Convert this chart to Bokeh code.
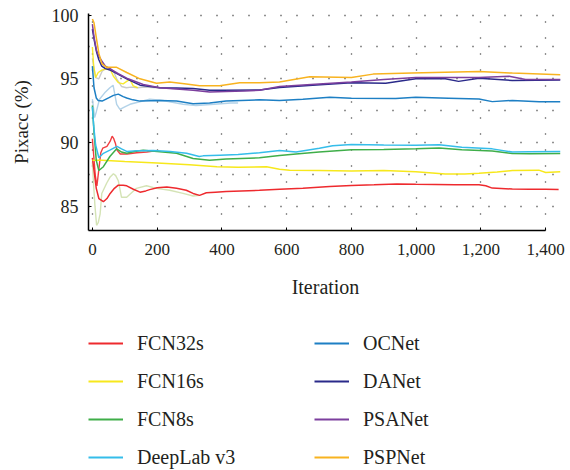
from bokeh.plotting import figure
from bokeh.layouts import column
from bokeh.models import (Legend, LegendItem, Range1d, FixedTicker,
                          NumeralTickFormatter)
from bokeh.embed import file_html
from bokeh.resources import INLINE

# ---------------- data ----------------
labels = ["FCN32s", "FCN16s", "FCN8s", "DeepLab v3", "OCNet", "DANet", "PSANet", "PSPNet"]
colors = ["#ee2a2e", "#f7e81c", "#3fae49", "#35bdea", "#1d7fc4", "#2a2a8a", "#7c3f9e", "#f8b320"]

fcn32_x = [0, 5, 12, 20, 34, 45, 55, 68, 80, 95, 106, 125, 147, 165, 177, 200, 230, 260, 290, 311, 331, 352, 380, 413, 460, 516, 578, 650, 733, 800, 870, 940, 999, 1060, 1120, 1194, 1215, 1235, 1297, 1350, 1400, 1440]
fcn32_y = [88.8, 87.8, 86.4, 85.6, 85.35, 85.6, 86.0, 86.4, 86.65, 86.65, 86.6, 86.35, 86.1, 86.2, 86.3, 86.45, 86.5, 86.4, 86.25, 86.0, 85.85, 86.05, 86.1, 86.15, 86.2, 86.25, 86.33, 86.4, 86.55, 86.63, 86.68, 86.75, 86.72, 86.7, 86.68, 86.68, 86.6, 86.42, 86.35, 86.33, 86.32, 86.3]

fcn16_x = [0, 30, 100, 200, 300, 385, 450, 538, 578, 609, 700, 800, 900, 999, 1050, 1090, 1150, 1194, 1250, 1297, 1379, 1400, 1445]
fcn16_y = [88.6, 88.6, 88.5, 88.4, 88.25, 88.1, 88.05, 88.1, 87.9, 87.83, 87.8, 87.76, 87.8, 87.7, 87.6, 87.52, 87.52, 87.58, 87.68, 87.8, 87.83, 87.65, 87.7]

fcn8_x = [0, 5, 12, 20, 34, 54, 75, 90, 106, 130, 157, 200, 260, 311, 362, 413, 516, 578, 629, 700, 800, 900, 999, 1071, 1141, 1235, 1297, 1350, 1445]
fcn8_y = [92.9, 90.8, 88.6, 87.8, 88.1, 88.9, 89.5, 89.25, 89.15, 89.3, 89.4, 89.3, 89.15, 88.75, 88.6, 88.7, 88.8, 88.97, 89.1, 89.25, 89.44, 89.45, 89.5, 89.56, 89.44, 89.34, 89.13, 89.12, 89.13]

deeplab_x = [0, 4, 10, 20, 34, 54, 76, 90, 106, 137, 188, 240, 291, 330, 342, 394, 450, 516, 578, 629, 701, 742, 800, 900, 999, 1071, 1141, 1235, 1297, 1350, 1445]
deeplab_y = [92.8, 91.3, 89.8, 88.8, 89.15, 89.4, 89.7, 89.5, 89.3, 89.35, 89.37, 89.3, 89.15, 88.9, 88.95, 89.0, 89.05, 89.2, 89.37, 89.25, 89.55, 89.75, 89.85, 89.8, 89.78, 89.83, 89.62, 89.5, 89.25, 89.28, 89.3]

ocnet_x = [0, 5, 12, 18, 30, 50, 65, 80, 95, 106, 125, 147, 180, 208, 260, 311, 362, 413, 516, 578, 650, 733, 800, 937, 999, 1100, 1194, 1235, 1297, 1380, 1445]
ocnet_y = [96.0, 94.3, 93.5, 93.3, 93.25, 93.5, 93.7, 93.8, 93.6, 93.5, 93.35, 93.25, 93.28, 93.3, 93.25, 93.05, 93.1, 93.25, 93.35, 93.3, 93.4, 93.55, 93.48, 93.45, 93.55, 93.48, 93.42, 93.21, 93.3, 93.2, 93.2]

danet_x = [0, 6, 13, 20, 29, 40, 54, 80, 106, 147, 208, 260, 311, 362, 413, 516, 578, 680, 800, 906, 999, 1090, 1131, 1194, 1297, 1445]
danet_y = [98.9, 98.0, 97.1, 96.5, 96.0, 95.8, 95.7, 95.35, 95.0, 94.5, 94.3, 94.28, 94.25, 94.1, 94.1, 94.12, 94.32, 94.5, 94.7, 94.65, 95.0, 95.0, 94.8, 95.05, 94.87, 94.9]

psanet_x = [0, 5, 13, 20, 29, 40, 54, 80, 106, 157, 208, 260, 311, 362, 413, 470, 516, 578, 700, 800, 900, 999, 1100, 1194, 1287, 1338, 1445]
psanet_y = [99.3, 98.3, 97.2, 96.8, 96.4, 96.0, 95.8, 95.4, 95.05, 94.55, 94.3, 94.2, 94.1, 93.96, 94.0, 94.05, 94.1, 94.4, 94.6, 94.76, 94.95, 95.1, 95.1, 95.1, 95.2, 94.95, 94.95]

pspnet_x = [0, 5, 13, 20, 29, 44, 75, 106, 147, 198, 239, 290, 331, 393, 455, 516, 578, 671, 800, 867, 987, 1090, 1194, 1297, 1445]
pspnet_y = [99.7, 99.4, 98.1, 97.0, 96.2, 95.9, 95.9, 95.5, 95.0, 94.65, 94.75, 94.6, 94.45, 94.45, 94.7, 94.7, 94.76, 95.16, 95.1, 95.37, 95.45, 95.52, 95.57, 95.45, 95.33]

# faint early-iteration traces
ghost_red_x = [0, 4, 9, 14, 20, 26, 32, 45, 55, 61, 66, 71, 76, 86, 107, 137, 168, 194]
ghost_red_y = [90.3, 89.0, 87.4, 86.6, 87.9, 89.2, 89.55, 89.7, 90.1, 90.5, 90.3, 89.95, 89.4, 89.1, 89.1, 89.2, 89.25, 89.35]
ghost_yellow_x = [0, 4, 10, 18, 30, 54, 65, 80, 95, 106, 116, 126, 140]
ghost_yellow_y = [97.5, 96.0, 95.1, 95.5, 95.7, 95.8, 95.2, 94.7, 94.6, 94.8, 94.95, 94.45, 94.3]
ghost_gray_x = [0, 5, 10, 20, 30, 40, 55, 65, 75, 90, 105, 120, 140, 160, 200, 240, 271]
ghost_gray_y = [96.6, 95.8, 95.1, 95.0, 95.6, 95.8, 95.8, 95.6, 95.0, 94.4, 94.3, 94.35, 94.3, 94.35, 94.3, 94.25, 94.2]
ghost_blue_x = [0, 4, 7, 12, 22, 38, 54, 64, 75, 85, 100, 116, 146, 177, 218, 280, 320, 376, 427, 450]
ghost_blue_y = [93.4, 92.6, 91.95, 92.4, 93.4, 93.9, 94.3, 94.5, 93.0, 92.6, 92.8, 93.0, 93.2, 93.4, 93.3, 93.0, 92.9, 93.0, 93.1, 93.1]
ghost_green_x = [0, 3, 8, 13, 18, 24, 29, 44, 55, 65, 72, 80, 90, 106, 136, 167, 198, 239, 280, 311, 331]
ghost_green_y = [88.5, 87.0, 85.0, 83.5, 83.7, 84.4, 86.0, 86.8, 87.3, 87.55, 87.4, 87.0, 85.7, 85.7, 86.4, 86.6, 86.4, 86.25, 86.0, 85.8, 85.85]

x_ticks = [0, 200, 400, 600, 800, 1000, 1200, 1400]
y_ticks = [85, 90, 95, 100]
y_grid = [85, 87.5, 90, 92.5, 95, 97.5, 100]

series_x = [fcn32_x, fcn16_x, fcn8_x, deeplab_x, ocnet_x, danet_x, psanet_x, pspnet_x]
series_y = [fcn32_y, fcn16_y, fcn8_y, deeplab_y, ocnet_y, danet_y, psanet_y, pspnet_y]
ghosts = [
    (ghost_green_x, ghost_green_y, "#cfe0ad"),
    (ghost_gray_x, ghost_gray_y, "#c4c4c4"),
    (ghost_blue_x, ghost_blue_y, "#aacde6"),
    (ghost_yellow_x, ghost_yellow_y, "#f7e81c"),
    (ghost_red_x, ghost_red_y, "#ee2a2e"),
]

FONT = "Liberation Serif"
TEXT = "#231f20"

p = figure(width=570, height=304, output_backend="svg", toolbar_location=None,
           x_range=Range1d(-12, 1452), y_range=Range1d(83.09, 100.13),
           min_border_left=88, min_border_right=8, min_border_top=13,
           min_border_bottom=74)
p.outline_line_color = None

for gx, gy, gc in ghosts:
    p.line(gx, gy, line_color=gc, line_width=1.4, line_alpha=0.9)

for sx, sy, c in zip(series_x, series_y, colors):
    p.line(sx, sy, line_color=c, line_width=1.5)

# axes
xax = p.xaxis[0]
yax = p.yaxis[0]
xax.ticker = FixedTicker(ticks=x_ticks)
xax.formatter = NumeralTickFormatter(format="0,0")
xax.bounds = (-12, 1400)
yax.ticker = FixedTicker(ticks=y_ticks)
for ax in (xax, yax):
    ax.axis_line_color = "black"
    ax.axis_line_width = 1.5
    ax.major_tick_out = 0
    ax.major_tick_in = 3
    ax.major_tick_line_color = "black"
    ax.minor_tick_line_color = None
    ax.major_label_text_font = FONT
    ax.major_label_text_color = TEXT
    ax.axis_label_text_font = FONT
    ax.axis_label_text_font_style = "normal"
    ax.axis_label_text_color = TEXT

xax.major_label_text_font_size = "17px"
xax.major_label_standoff = 13
xax.axis_label = "Iteration"
xax.axis_label_text_font_size = "20px"
xax.axis_label_standoff = 18

yax.major_label_text_font_size = "18px"
yax.major_label_standoff = 10
yax.axis_label = "Pixacc (%)"
yax.axis_label_text_font_size = "19px"
yax.axis_label_standoff = 17

# dotted grid
p.xgrid.ticker = FixedTicker(ticks=x_ticks)
p.ygrid.ticker = FixedTicker(ticks=y_grid)
for g in (p.xgrid, p.ygrid):
    g.grid_line_color = "#222222"
    g.grid_line_width = 1.3
    g.grid_line_dash = "1 15"

# ---------------- legend panel ----------------
nan = float("nan")
lg = figure(width=570, height=166, output_backend="svg", toolbar_location=None,
            x_range=Range1d(0, 1), y_range=Range1d(0, 1),
            x_axis_location=None, y_axis_location=None,
            min_border_left=0, min_border_right=0, min_border_top=0,
            min_border_bottom=0)
lg.outline_line_color = None
lg.grid.visible = False
# legend-only renderers (a single missing point: nothing is drawn in the frame)
legend_renderers = [lg.line(x=[nan], y=[nan], line_color=c, line_width=2.2) for c in colors]

legend = Legend(items=[LegendItem(label=l, renderers=[r]) for l, r in zip(labels, legend_renderers)],
                location=(0, 1), ncols=2)
legend.label_text_font = FONT
legend.label_text_font_size = "20px"
legend.label_text_color = TEXT
legend.glyph_width = 35
legend.glyph_height = 24
legend.label_height = 24
legend.label_width = 163
legend.label_standoff = 14
legend.spacing = 14
legend.padding = 0
legend.margin = 0
legend.border_line_alpha = 0
legend.background_fill_alpha = 0
lg.add_layout(legend)

layout = column(p, lg, spacing=0)
open("out.html", "w").write(file_html(layout, INLINE))
